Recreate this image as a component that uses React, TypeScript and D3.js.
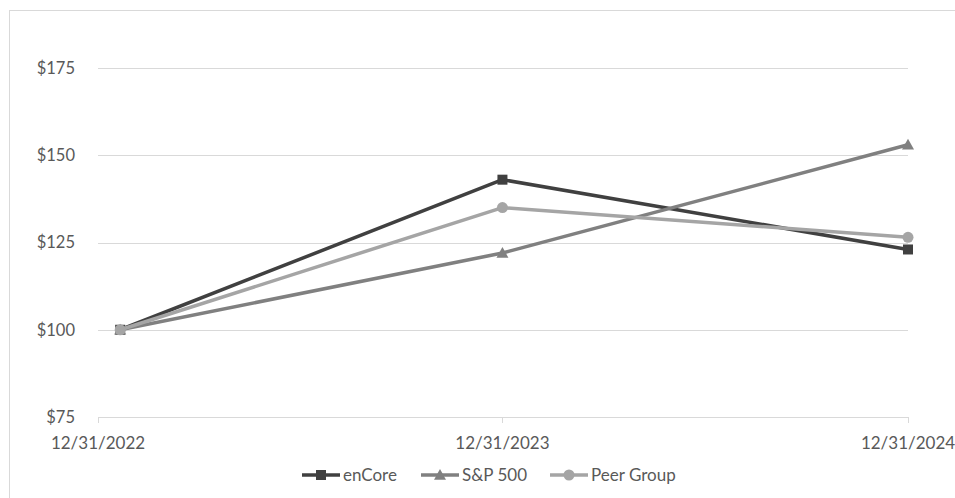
import React from "react";
import * as d3 from "d3";

const dates = ["2023-01-20", "2023-12-31", "2024-12-31"];
const tickDates = ["2022-12-31", "2023-12-31", "2024-12-31"];
const tickLabels = ["12/31/2022", "12/31/2023", "12/31/2024"];
const yTicks = [75, 100, 125, 150, 175];
const enCore = [100, 143, 123];
const sp500 = [100, 122, 153];
const peerGroup = [100, 135, 126.5];

const seriesNames = ["enCore", "S&P 500", "Peer Group"];
const seriesColors = ["#404040", "#808080", "#a5a5a5"];
const seriesMarkers = ["square", "triangle", "circle"];

const W = 955;
const H = 498;
const FONT = "Lato, 'Open Sans', sans-serif";

function Marker({ type, x, y, color }: { type: string; x: number; y: number; color: string }) {
  if (type === "square") return <rect x={x - 5} y={y - 5} width={10} height={10} fill={color} />;
  if (type === "triangle") {
    const s = 6;
    return <path d={`M${x},${y - s}L${x + s},${y + s * 0.8}L${x - s},${y + s * 0.8}Z`} fill={color} />;
  }
  return <circle cx={x} cy={y} r={5.5} fill={color} />;
}

export default function App() {
  const parse = d3.timeParse("%Y-%m-%d");
  const x = d3
    .scaleTime()
    .domain([parse(tickDates[0])!, parse(tickDates[2])!])
    .range([98, 908]);
  const y = d3.scaleLinear().domain([75, 175]).range([417, 68]);
  const data = [enCore, sp500, peerGroup];
  const line = d3
    .line<number>()
    .x((_, i) => x(parse(dates[i])!))
    .y((d) => y(d));

  const legendX = [302, 421, 550];

  return (
    <svg width={W} height={H} style={{ position: "absolute", left: 0, top: 0, background: "#fff" }}>
      <rect x={9.5} y={10.5} width={W + 10} height={H + 10} fill="#fff" stroke="#d9d9d9" strokeWidth={1} />
      {yTicks.map((t) => (
        <g key={t}>
          <line x1={98} x2={908} y1={Math.round(y(t)) + 0.5} y2={Math.round(y(t)) + 0.5} stroke="#d9d9d9" strokeWidth={1} />
          <text x={75} y={y(t)} dy="0.35em" textAnchor="end" fontFamily={FONT} fontSize={16.5} fill="#595959">
            {"$" + t}
          </text>
        </g>
      ))}
      {tickDates.map((d, i) => (
        <g key={d}>
          <line
            x1={Math.round(x(parse(d)!)) + 0.5}
            x2={Math.round(x(parse(d)!)) + 0.5}
            y1={y(75)}
            y2={y(75) + 6}
            stroke="#d9d9d9"
          />
          <text x={x(parse(d)!)} y={443} dy="0.35em" textAnchor="middle" fontFamily={FONT} fontSize={17} fill="#595959">
            {tickLabels[i]}
          </text>
        </g>
      ))}
      {data.map((s, k) => (
        <g key={k}>
          <path d={line(s) || ""} fill="none" stroke={seriesColors[k]} strokeWidth={3.5} strokeLinejoin="round" />
          {s.map((v, i) => (
            <Marker key={i} type={seriesMarkers[k]} x={x(parse(dates[i])!)} y={y(v)} color={seriesColors[k]} />
          ))}
        </g>
      ))}
      {seriesNames.map((n, k) => (
        <g key={n}>
          <line x1={legendX[k]} x2={legendX[k] + 38} y1={475} y2={475} stroke={seriesColors[k]} strokeWidth={3.5} />
          <Marker type={seriesMarkers[k]} x={legendX[k] + 19} y={475} color={seriesColors[k]} />
          <text x={legendX[k] + 41} y={475} dy="0.35em" fontFamily={FONT} fontSize={17} fill="#595959">
            {n}
          </text>
        </g>
      ))}
    </svg>
  );
}
